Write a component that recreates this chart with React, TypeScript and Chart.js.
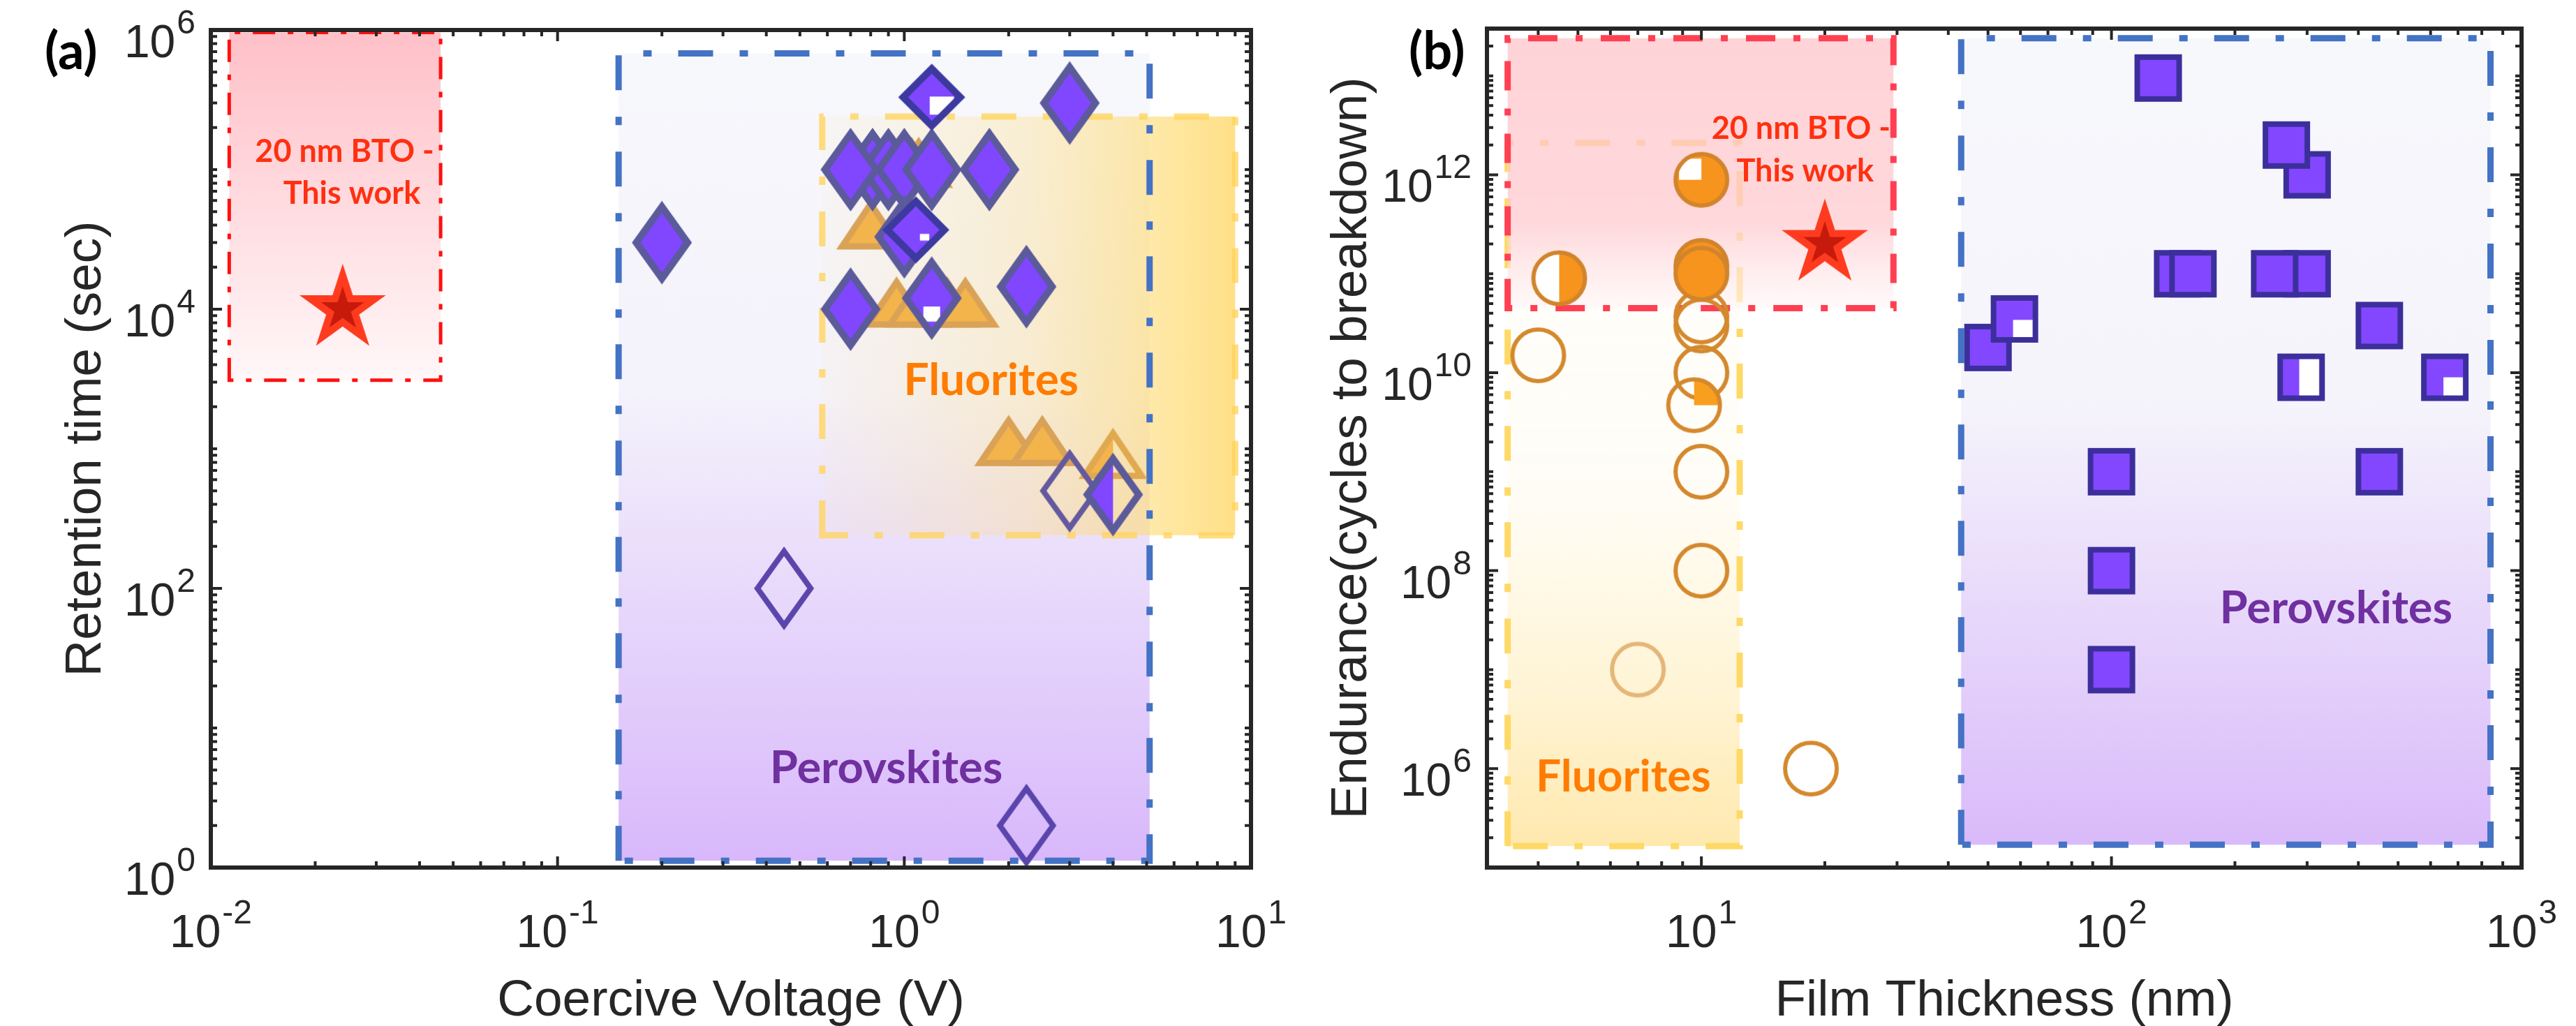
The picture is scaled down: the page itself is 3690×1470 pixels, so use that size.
import { useEffect, useRef } from 'react';
import { Chart, registerables } from 'chart.js';

Chart.register(...registerables);

/* ================= Panel (a): retention time vs coercive voltage ================= */
const voltageRange = [0.01, 10];
const retentionRange = [1, 1e6];
const voltageTickExponents = [-2, -1, 0, 1];
const retentionTickExponents = [0, 2, 4, 6];

const perovskiteVoltage = [0.2, 3.0, 0.81, 0.9, 1.0, 0.7, 1.2, 1.76, 1.2, 1.0, 1.08, 1.2, 0.7, 2.25, 3.0, 4.0, 0.45, 2.25];
const perovskiteRetention = [3e4, 3e5, 1e5, 1e5, 1e5, 1e5, 1e5, 1e5, 3.3e5, 3.3e4, 3.7e4, 1.2e4, 1e4, 1.45e4, 500, 470, 100, 2];
const perovskiteMarkA = ['dia', 'dia', 'dia', 'dia', 'dia', 'dia', 'dia', 'dia', 'sqdiaNotch', 'dia', 'sqdiaSliver', 'diaNotch', 'dia', 'dia', 'diaHollow', 'diaHalf', 'diaHollowDark', 'diaHollowDark'];

const fluoriteVoltage = [1.05, 1.1, 0.8, 0.95, 1.1, 1.33, 1.5, 2.0, 2.5, 4.0];
const fluoriteRetention = [1.13e5, 1.13e5, 4.1e4, 1.13e4, 1.13e4, 1.13e4, 1.13e4, 1.15e3, 1.15e3, 930];
const fluoriteMarkA = ['tri', 'tri', 'tri', 'tri', 'tri', 'tri', 'tri', 'tri', 'tri', 'triHalf'];

const btoVoltage = [0.024];
const btoRetention = [1e4];

// regions: [xMin, xMax, yMin, yMax]
const btoRegionA = [0.0113, 0.046, 3.1e3, 9.6e5];
const perovskiteRegionA = [0.15, 5.1, 1.12, 6.8e5];
const fluoriteRegionA = [0.58, 9.0, 240, 2.4e5];

/* ================= Panel (b): endurance vs film thickness ================= */
const thicknessRange = [3, 1000];
const enduranceRange = [1e5, 3e13];
const thicknessTickExponents = [1, 2, 3];
const enduranceTickExponents = [6, 8, 10, 12];

const perovskiteThickness = [130, 300, 267, 145, 158, 300, 250, 450, 50, 58, 290, 650, 100, 450, 100, 100];
const perovskiteEndurance = [9.5e12, 1e12, 2e12, 1e11, 1e11, 1e11, 1e11, 3e10, 1.8e10, 3.5e10, 9e9, 9e9, 1e9, 1e9, 1e8, 1e7];
const perovskiteMarkB = ['sq', 'sq', 'sq', 'sq', 'sq', 'sq', 'sq', 'sq', 'sq', 'sqNotchBR', 'sqHalfR', 'sqNotchBR2', 'sq', 'sq', 'sq', 'sq'];

const fluoriteThickness = [4.0, 10, 10, 10, 18.5, 7, 10, 10, 9.6, 10, 10, 4.5, 10];
const fluoriteEndurance = [1.5e10, 3.7e10, 3e10, 1e10, 1e6, 1e7, 1e8, 1e9, 4.7e9, 1.2e11, 1.0e11, 9e10, 8.9e11];
const fluoriteMarkB = ['cHollow', 'cHollow', 'cHollow', 'cHollow', 'cHollow', 'cHollowLight', 'cHollow', 'cHollow', 'cQuarterFill', 'cFill', 'cFill', 'cHalfWhite', 'cQuarterWhite'];

const btoThickness = [20];
const btoEndurance = [2e11];

const btoRegionB = [3.37, 29.4, 4.5e10, 2.4e13];
const fluoriteRegionB = [3.37, 12.4, 1.65e5, 2.1e12];
const perovskiteRegionB = [43, 840, 1.7e5, 2.4e13];

/* ================= annotations (text at data coordinates) ================= */
const annotationsA = [
  { text: '20 nm BTO -', x: 0.0243, y: 1.13e5, color: '#ff3010', size: 45 },
  { text: 'This work', x: 0.0255, y: 5.7e4, color: '#ff3010', size: 45 },
  { text: 'Fluorites', x: 1.78, y: 2.43e3, color: '#ff7c00', size: 64 },
  { text: 'Perovskites', x: 0.887, y: 4.03, color: '#7030a0', size: 65 },
];
const annotationsB = [
  { text: '20 nm BTO -', x: 17.5, y: 2.29e12, color: '#ff3010', size: 45 },
  { text: 'This work', x: 17.9, y: 8.5e11, color: '#ff3010', size: 45 },
  { text: 'Fluorites', x: 6.45, y: 5.9e5, color: '#ff7c00', size: 64 },
  { text: 'Perovskites', x: 353, y: 2.92e7, color: '#7030a0', size: 65 },
];

/* ================= styling ================= */
const AXIS_COLOR = '#262626';
const TICK_FONT = '66px "Liberation Sans", Arial, sans-serif';
const EXP_FONT = '48px "Liberation Sans", Arial, sans-serif';
const TITLE_FONT = '73px "Liberation Sans", Arial, sans-serif';
const LETTER_FONT = 'bold 74px Lato, "Open Sans", sans-serif';

type Spec = {
  shape: string; w: number; h: number; lw: number; fill: string | null; stroke: string;
  clip?: number[]; white?: number[];
};

function makeMarker(s: Spec): HTMLCanvasElement {
  const pad = Math.ceil(s.lw) + 4;
  const W = 2 * Math.ceil((s.w + 2 * pad) / 2);
  const H = 2 * Math.ceil((s.h + 2 * pad) / 2);
  const c = document.createElement('canvas');
  c.width = W; c.height = H;
  const g = c.getContext('2d') as CanvasRenderingContext2D;
  const x0 = (W - s.w) / 2, y0 = (H - s.h) / 2;
  const cx = W / 2, cy = H / 2;
  const half = s.lw / 2;
  const trace = () => {
    g.beginPath();
    if (s.shape === 'diamond') {
      const a = Math.atan(s.w / s.h);
      const hh = s.h / 2 - half / Math.sin(a);
      const hw = s.w / 2 - half / Math.cos(a);
      g.moveTo(cx, cy - hh); g.lineTo(cx + hw, cy); g.lineTo(cx, cy + hh); g.lineTo(cx - hw, cy); g.closePath();
    } else if (s.shape === 'triangle') {
      const top = y0 + s.lw * 0.95, bot = y0 + s.h - half;
      const l = x0 + s.lw * 0.95, r = x0 + s.w - s.lw * 0.95;
      g.moveTo(cx, top); g.lineTo(r, bot); g.lineTo(l, bot); g.closePath();
    } else if (s.shape === 'square') {
      g.rect(x0 + half, y0 + half, s.w - s.lw, s.h - s.lw);
    } else {
      g.arc(cx, cy, s.w / 2 - half, 0, Math.PI * 2); g.closePath();
    }
  };
  const rectOf = (f: number[]): [number, number, number, number] =>
    [x0 + f[0] * s.w, y0 + f[1] * s.h, (f[2] - f[0]) * s.w, (f[3] - f[1]) * s.h];
  if (s.fill) {
    g.save(); trace(); g.clip();
    if (s.clip) { g.beginPath(); g.rect(...rectOf(s.clip)); g.clip(); }
    g.fillStyle = s.fill; g.fillRect(0, 0, W, H); g.restore();
  }
  if (s.white) {
    g.save(); trace(); g.clip();
    g.fillStyle = '#ffffff'; g.fillRect(...rectOf(s.white)); g.restore();
  }
  trace();
  g.lineJoin = 'miter'; g.lineWidth = s.lw; g.strokeStyle = s.stroke; g.stroke();
  return c;
}

function makeStar(R: number): HTMLCanvasElement {
  const W = 2 * Math.ceil(R + 6);
  const c = document.createElement('canvas');
  c.width = W; c.height = W;
  const g = c.getContext('2d') as CanvasRenderingContext2D;
  const cx = W / 2, cy = W / 2;
  const star = (Ro: number) => {
    g.beginPath();
    for (let i = 0; i < 10; i++) {
      const rad = i % 2 === 0 ? Ro : Ro * 0.382;
      const a = -Math.PI / 2 + (i * Math.PI) / 5;
      g.lineTo(cx + rad * Math.cos(a), cy + rad * Math.sin(a));
    }
    g.closePath();
  };
  star(R); g.fillStyle = '#ff3b1f'; g.fill();
  star(R * 0.5); g.fillStyle = '#c61a0c'; g.fill();
  return c;
}

let MARKS: Record<string, HTMLCanvasElement> | null = null;
function getMarks() {
  if (MARKS) return MARKS;
  const PURPLE = '#8047ff';
  const dia: Spec = { shape: 'diamond', w: 86, h: 120, lw: 10, fill: PURPLE, stroke: '#5b5a9b' };
  const sqdia: Spec = { shape: 'diamond', w: 96, h: 96, lw: 10, fill: PURPLE, stroke: '#3c399f' };
  const tri: Spec = { shape: 'triangle', w: 99, h: 74, lw: 9, fill: '#f3b44b', stroke: '#d9a257' };
  const sq: Spec = { shape: 'square', w: 68, h: 68, lw: 8, fill: '#8347ff', stroke: '#3c2f9c' };
  const circ: Spec = { shape: 'circle', w: 80, h: 80, lw: 6, fill: '#f7941d', stroke: '#d1842c' };
  const defs: Record<string, Spec> = {
    dia,
    diaNotch: { ...dia, white: [0.36, 0.6, 0.64, 0.78] },
    diaHalf: { ...dia, clip: [0, 0, 0.5, 1] },
    diaHollow: { ...dia, fill: null, lw: 8, stroke: '#64599f' },
    diaHollowDark: { ...dia, fill: null, lw: 8, stroke: '#5a45ad' },
    sqdiaNotch: { ...sqdia, white: [0.47, 0.49, 0.83, 0.76] },
    sqdiaSliver: { ...sqdia, white: [0.56, 0.56, 0.7, 0.66] },
    tri,
    triHalf: { ...tri, clip: [0, 0, 0.5, 1], stroke: '#e0a94f' },
    sq,
    sqNotchBR: { ...sq, white: [0.47, 0.52, 0.89, 0.94] },
    sqHalfR: { ...sq, white: [0.46, 0.08, 0.88, 0.94] },
    sqNotchBR2: { ...sq, white: [0.47, 0.5, 0.88, 0.94] },
    cFill: circ,
    cHollow: { ...circ, fill: null, stroke: '#d4892d' },
    cHollowLight: { ...circ, fill: null, stroke: '#e4b678' },
    cQuarterFill: { ...circ, fill: '#f99f1f', clip: [0.5, 0, 1, 0.5], stroke: '#d4892d' },
    cHalfWhite: { ...circ, white: [0, 0, 0.5, 1] },
    cQuarterWhite: { ...circ, white: [0.1, 0.12, 0.5, 0.5] },
  };
  const out: Record<string, HTMLCanvasElement> = {};
  Object.keys(defs).forEach((k) => { out[k] = makeMarker(defs[k]); });
  out.star = makeStar(65);
  MARKS = out;
  return out;
}

/* ================= drawing helpers ================= */
function regionPx(chart: any, r: number[]) {
  const xs = chart.scales.x, ys = chart.scales.y;
  return {
    l: xs.getPixelForValue(r[0]), r: xs.getPixelForValue(r[1]),
    t: ys.getPixelForValue(r[3]), b: ys.getPixelForValue(r[2]),
  };
}

function gradient(ctx: CanvasRenderingContext2D, p: any, vertical: boolean, stops: [number, string][]) {
  const g = vertical ? ctx.createLinearGradient(0, p.t, 0, p.b) : ctx.createLinearGradient(p.l, 0, p.r, 0);
  stops.forEach(([o, c]) => g.addColorStop(o, c));
  return g;
}

function fillRegion(chart: any, r: number[], vertical: boolean, stops: [number, string][]) {
  const ctx = chart.ctx as CanvasRenderingContext2D;
  const p = regionPx(chart, r);
  ctx.save();
  ctx.fillStyle = gradient(ctx, p, vertical, stops);
  ctx.fillRect(p.l, p.t, p.r - p.l, p.b - p.t);
  ctx.restore();
}

function strokeRegion(chart: any, r: number[], color: string, lw: number, dash: number[]) {
  const ctx = chart.ctx as CanvasRenderingContext2D;
  const p = regionPx(chart, r);
  ctx.save();
  ctx.strokeStyle = color; ctx.lineWidth = lw; ctx.setLineDash(dash); ctx.lineCap = 'butt';
  ctx.beginPath();
  ctx.moveTo(p.l, p.b); ctx.lineTo(p.l, p.t); ctx.lineTo(p.r, p.t); ctx.lineTo(p.r, p.b); ctx.closePath();
  ctx.stroke();
  ctx.restore();
}

function drawNotes(chart: any, notes: any[]) {
  const ctx = chart.ctx as CanvasRenderingContext2D;
  const xs = chart.scales.x, ys = chart.scales.y;
  ctx.save();
  ctx.textAlign = 'center'; ctx.textBaseline = 'alphabetic';
  notes.forEach((n) => {
    ctx.font = `bold ${n.size}px Lato, "Open Sans", sans-serif`;
    ctx.fillStyle = n.color;
    ctx.fillText(n.text, xs.getPixelForValue(n.x), ys.getPixelForValue(n.y));
  });
  ctx.restore();
}

function logTicks(min: number, max: number, majors: number[]) {
  const out: { v: number; major: boolean }[] = [];
  const e0 = Math.floor(Math.log10(min) + 1e-9), e1 = Math.ceil(Math.log10(max) - 1e-9);
  for (let e = e0; e <= e1; e++) {
    for (let m = 1; m < 10; m++) {
      const v = m * Math.pow(10, e);
      if (v >= min * (1 - 1e-9) && v <= max * (1 + 1e-9)) out.push({ v, major: m === 1 && majors.includes(e) });
    }
  }
  return out;
}

function powLabel(ctx: CanvasRenderingContext2D, exp: number, ax: number, baseY: number, align: string) {
  ctx.font = TICK_FONT;
  const bw = ctx.measureText('10').width;
  ctx.font = EXP_FONT;
  const es = String(exp);
  const ew = ctx.measureText(es).width;
  const gap = 2;
  const total = bw + gap + ew;
  const x0 = align === 'center' ? ax - total / 2 : ax - total;
  ctx.textAlign = 'left'; ctx.textBaseline = 'alphabetic';
  ctx.font = TICK_FONT; ctx.fillText('10', x0, baseY);
  ctx.font = EXP_FONT; ctx.fillText(es, x0 + bw + gap, baseY - 34);
}

function drawAxes(chart: any, o: any) {
  const ctx = chart.ctx as CanvasRenderingContext2D;
  const { left, right, top, bottom } = chart.chartArea;
  const xs = chart.scales.x, ys = chart.scales.y;
  ctx.save();
  ctx.setLineDash([]); ctx.strokeStyle = AXIS_COLOR; ctx.lineCap = 'butt'; ctx.lineWidth = 4;
  ctx.beginPath();
  logTicks(o.xRange[0], o.xRange[1], o.xExps).forEach(({ v, major }) => {
    const px = xs.getPixelForValue(v); const len = major ? 16 : 9;
    ctx.moveTo(px, bottom); ctx.lineTo(px, bottom - len);
    ctx.moveTo(px, top); ctx.lineTo(px, top + len);
  });
  logTicks(o.yRange[0], o.yRange[1], o.yExps).forEach(({ v, major }) => {
    const py = ys.getPixelForValue(v); const len = major ? 16 : 9;
    ctx.moveTo(left, py); ctx.lineTo(left + len, py);
    ctx.moveTo(right, py); ctx.lineTo(right - len, py);
  });
  ctx.stroke();
  ctx.lineWidth = 6;
  ctx.strokeRect(left, top, right - left, bottom - top);

  ctx.fillStyle = AXIS_COLOR;
  o.xExps.forEach((e: number) => powLabel(ctx, e, xs.getPixelForValue(Math.pow(10, e)), bottom + 114, 'center'));
  o.yExps.forEach((e: number) => powLabel(ctx, e, left - 22, ys.getPixelForValue(Math.pow(10, e)) + 39, 'right'));

  ctx.font = TITLE_FONT; ctx.textAlign = 'center'; ctx.textBaseline = 'alphabetic';
  ctx.fillText(o.xTitle, (left + right) / 2, bottom + 212);
  ctx.save();
  ctx.translate(o.yTitleX, (top + bottom) / 2);
  ctx.rotate(-Math.PI / 2);
  ctx.fillText(o.yTitle, 0, 0);
  ctx.restore();

  ctx.fillStyle = '#000000'; ctx.font = LETTER_FONT; ctx.textAlign = 'left';
  ctx.fillText(o.letter, o.letterX, 99);
  ctx.restore();
}

const BLUE_DASH = [50, 38, 12, 38];

const panelAPlugin = {
  id: 'panelADecor',
  beforeDatasetsDraw(chart: any) {
    fillRegion(chart, perovskiteRegionA, true, [[0, '#f7f8fc'], [0.42, '#f4f2fb'], [1, '#d8b8fb']]);
    fillRegion(chart, btoRegionA, true, [[0, '#ffc0c8'], [1, '#fff7f8']]);
    strokeRegion(chart, btoRegionA, '#ff1010', 5, [32, 18, 8, 18]);
  },
  beforeDatasetDraw(chart: any, args: any) {
    if (args.index === 1) {
      fillRegion(chart, fluoriteRegionA, false, [
        [0, 'rgba(255,225,140,0.06)'], [0.5, 'rgba(255,220,120,0.32)'], [0.8, 'rgba(255,218,110,0.6)'], [1, 'rgba(255,216,105,0.8)'],
      ]);
      strokeRegion(chart, fluoriteRegionA, 'rgba(255,213,95,0.8)', 9, BLUE_DASH);
      strokeRegion(chart, perovskiteRegionA, '#4472c4', 9, BLUE_DASH);
    }
  },
  afterDatasetsDraw(chart: any) { drawNotes(chart, annotationsA); },
  afterDraw(chart: any) {
    drawAxes(chart, {
      xRange: voltageRange, yRange: retentionRange, xExps: voltageTickExponents, yExps: retentionTickExponents,
      xTitle: 'Coercive Voltage (V)', yTitle: 'Retention time (sec)', yTitleX: 144, letter: '(a)', letterX: 64,
    });
  },
};

const panelBPlugin = {
  id: 'panelBDecor',
  beforeDatasetsDraw(chart: any) {
    fillRegion(chart, fluoriteRegionB, true, [
      [0, 'rgba(255,225,130,0.02)'], [0.5, 'rgba(255,222,125,0.07)'], [0.78, 'rgba(255,218,115,0.3)'], [1, 'rgba(255,215,110,0.56)'],
    ]);
    strokeRegion(chart, fluoriteRegionB, '#ffd966', 9, BLUE_DASH);
    fillRegion(chart, perovskiteRegionB, true, [[0, '#f7f8fc'], [0.45, '#f5f4fb'], [1, '#d9bafa']]);
    strokeRegion(chart, perovskiteRegionB, '#4472c4', 9, BLUE_DASH);
    fillRegion(chart, btoRegionB, true, [
      [0, 'rgba(255,198,203,0.76)'], [0.68, 'rgba(255,202,207,0.74)'], [1, 'rgba(255,246,247,0.6)'],
    ]);
    strokeRegion(chart, btoRegionB, '#ff4052', 9, [42, 26, 10, 26]);
  },
  afterDatasetsDraw(chart: any) { drawNotes(chart, annotationsB); },
  afterDraw(chart: any) {
    drawAxes(chart, {
      xRange: thicknessRange, yRange: enduranceRange, xExps: thicknessTickExponents, yExps: enduranceTickExponents,
      xTitle: 'Film Thickness (nm)', yTitle: 'Endurance(cycles to breakdown)', yTitleX: 97, letter: '(b)', letterX: 158,
    });
  },
};

function pts(xs: number[], ys: number[]) {
  return xs.map((x, i) => ({ x, y: ys[i] }));
}

function scatterSet(label: string, xs: number[], ys: number[], styles: HTMLCanvasElement[]) {
  return { label, data: pts(xs, ys), pointStyle: styles, pointRadius: 10, showLine: false, clip: false as any };
}

function baseOptions(xr: number[], yr: number[], padding: any) {
  return {
    responsive: false,
    animation: false,
    devicePixelRatio: 1,
    events: [],
    layout: { padding },
    plugins: { legend: { display: false }, tooltip: { enabled: false } },
    scales: {
      x: { type: 'logarithmic', min: xr[0], max: xr[1], display: false },
      y: { type: 'logarithmic', min: yr[0], max: yr[1], display: false },
    },
  };
}

export default function App() {
  const refA = useRef<HTMLCanvasElement>(null);
  const refB = useRef<HTMLCanvasElement>(null);

  useEffect(() => {
    const M = getMarks();
    const chartA = new Chart(refA.current as HTMLCanvasElement, {
      type: 'scatter',
      data: {
        datasets: [
          scatterSet('Perovskites', perovskiteVoltage, perovskiteRetention, perovskiteMarkA.map((k) => M[k])),
          scatterSet('Fluorites', fluoriteVoltage, fluoriteRetention, fluoriteMarkA.map((k) => M[k])),
          scatterSet('20 nm BTO - This work', btoVoltage, btoRetention, btoVoltage.map(() => M.star)),
        ],
      },
      options: baseOptions(voltageRange, retentionRange, { left: 302, right: 68, top: 43, bottom: 227 }) as any,
      plugins: [panelAPlugin],
    } as any);
    const chartB = new Chart(refB.current as HTMLCanvasElement, {
      type: 'scatter',
      data: {
        datasets: [
          scatterSet('Perovskites', perovskiteThickness, perovskiteEndurance, perovskiteMarkB.map((k) => M[k])),
          scatterSet('Fluorites', fluoriteThickness, fluoriteEndurance, fluoriteMarkB.map((k) => M[k])),
          scatterSet('20 nm BTO - This work', btoThickness, btoEndurance, btoThickness.map(() => M.star)),
        ],
      },
      options: baseOptions(thicknessRange, enduranceRange, { left: 270, right: 78, top: 41, bottom: 227 }) as any,
      plugins: [panelBPlugin],
    } as any);
    return () => { chartA.destroy(); chartB.destroy(); };
  }, []);

  return (
    <div style={{ position: 'absolute', left: 0, top: 0, width: 3690, height: 1470, background: '#ffffff', overflow: 'hidden' }}>
      <canvas ref={refA} width={1860} height={1470} style={{ position: 'absolute', left: 0, top: 0, width: 1860, height: 1470 }} />
      <canvas ref={refB} width={1830} height={1470} style={{ position: 'absolute', left: 1860, top: 0, width: 1830, height: 1470 }} />
    </div>
  );
}
